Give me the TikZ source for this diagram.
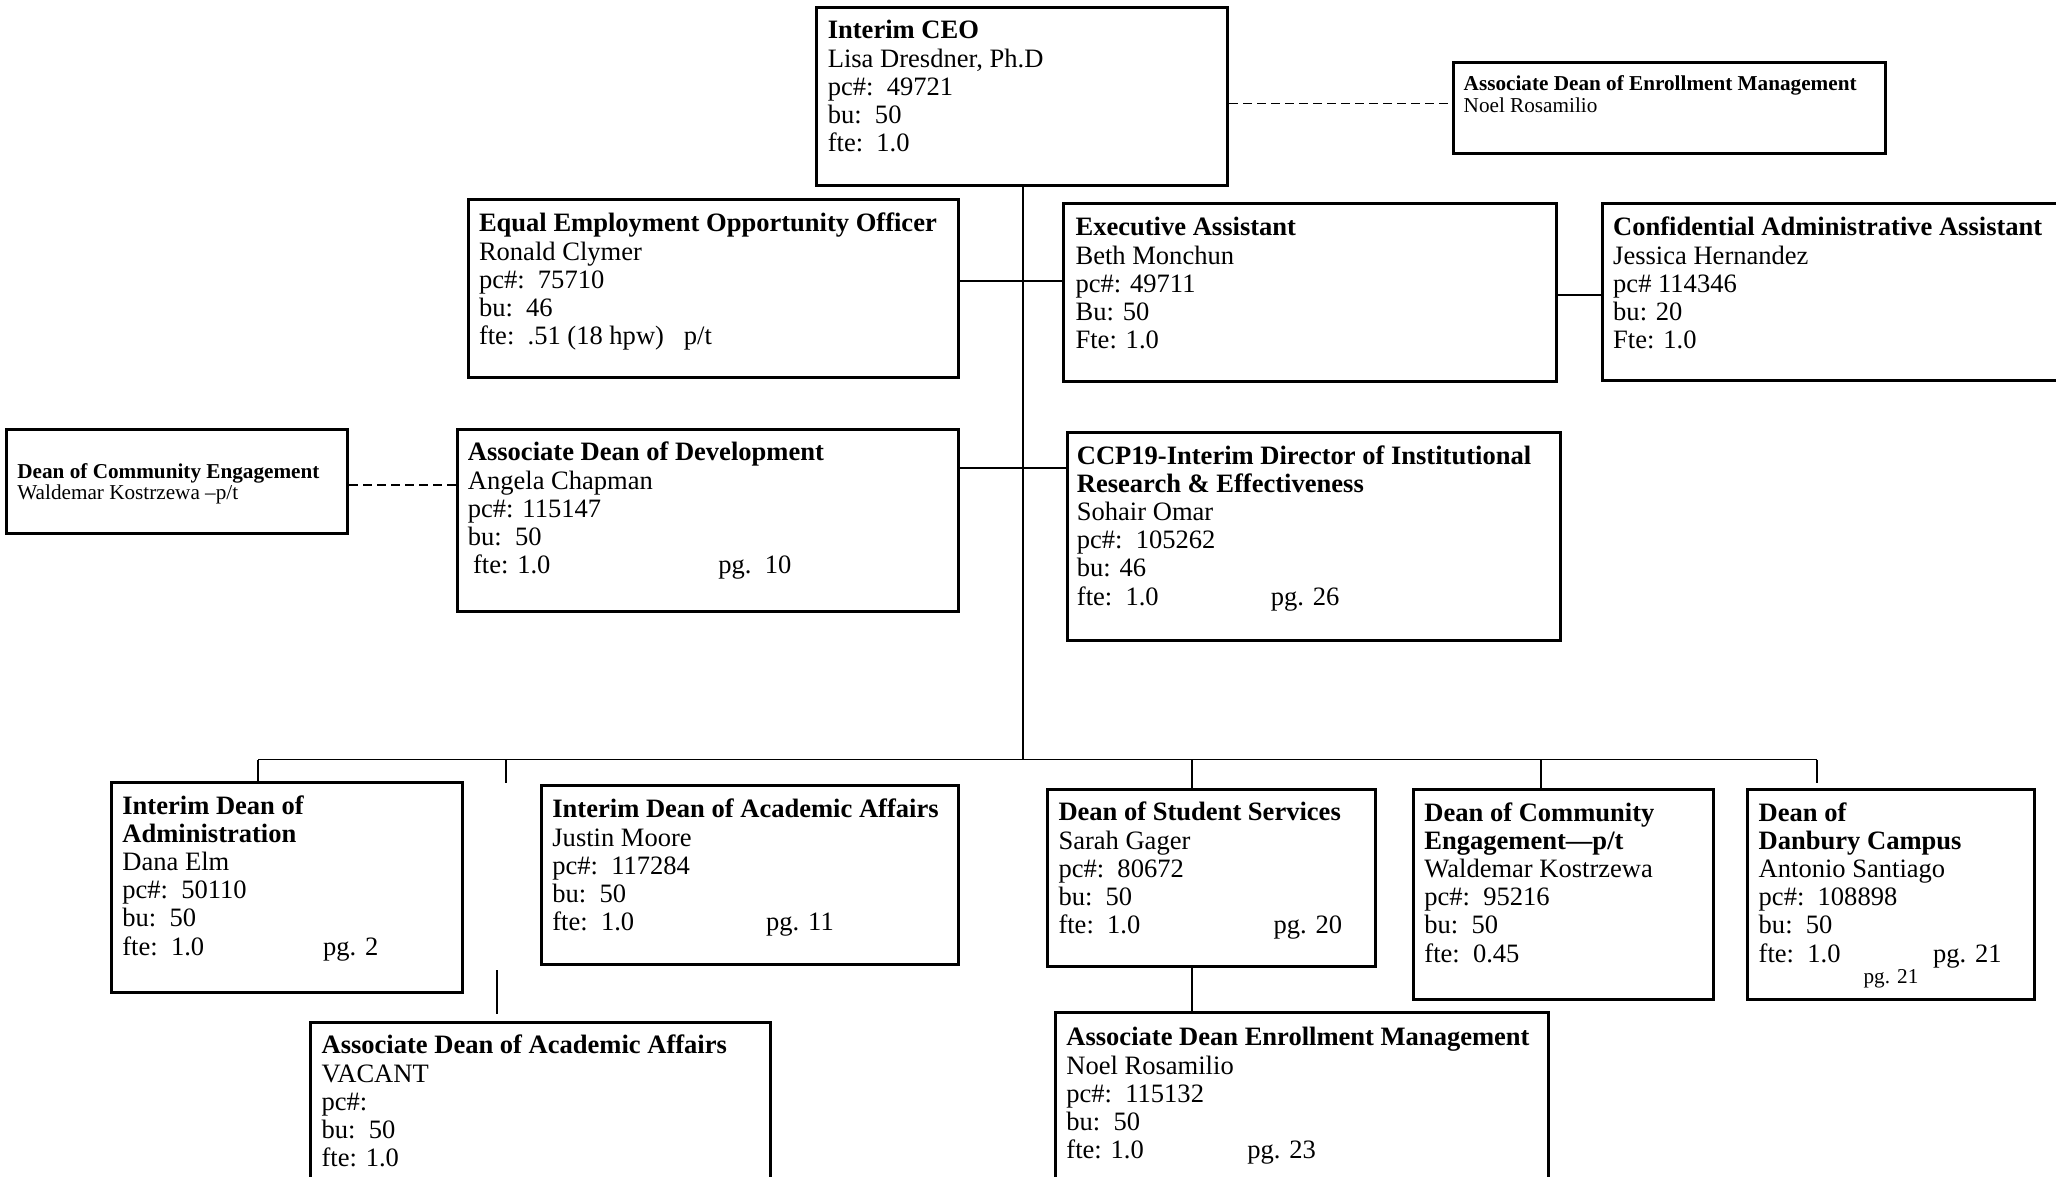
\documentclass[tikz,border=0pt]{standalone}
\usepackage{fontspec}
\setmainfont{Liberation Serif}
\usetikzlibrary{fit}
\begin{document}
\begin{tikzpicture}[x=0.5pt,y=-0.5pt,
  box/.style={draw, line width=1.5pt, inner sep=0pt},
  conn/.style={line width=0.9pt},
  dconn/.style={line width=0.9pt, dash pattern=on 4.5pt off 2.5pt},
  txt/.style={anchor=base west, inner sep=0pt, align=left, font=\fontsize{13.27}{14.1}\selectfont},
  stxt/.style={anchor=base west, inner sep=0pt, align=left, font=\fontsize{10.6}{10.8}\selectfont}]
\useasboundingbox (0,0) rectangle (2056,1177);
\clip (0,0) rectangle (2056,1177);

% boxes
\node[box, fit={(816,8) (1227.5,185)}] (ceo) {};
\node[box, fit={(1453,63) (1885.5,153.5)}] (aem) {};
\node[box, fit={(468,199.5) (958.5,377.5)}] (eeo) {};
\node[box, fit={(1063.5,203) (1556.5,381.5)}] (ea) {};
\node[box, fit={(1602,203) (2075,380)}] (caa) {};
\node[box, fit={(6.5,429) (347.5,533.5)}] (dce) {};
\node[box, fit={(457.5,429) (958.5,611)}] (add) {};
\node[box, fit={(1067.5,432.5) (1560.5,640)}] (ccp) {};
\node[box, fit={(111.5,782.5) (462.5,992.5)}] (ida) {};
\node[box, fit={(541,785) (958.5,964)}] (idaa) {};
\node[box, fit={(310,1022) (770.5,1200)}] (adaa) {};
\node[box, fit={(1047.5,789.3) (1375.5,966.5)}] (dss) {};
\node[box, fit={(1055.5,1012) (1548,1200)}] (adem) {};
\node[box, fit={(1413.5,789.3) (1713.7,999)}] (dcetwo) {};
\node[box, fit={(1747.8,789.3) (2034,999)}] (ddc) {};

% texts (anchored at the baseline of their last line)
\node[txt] (ceot) at (827.4,151.6) {\textbf{Interim CEO}\\Lisa Dresdner, Ph.D\\pc\#:~~49721\\bu:~~50\\fte:~~1.0};
\node[stxt] (aemt) at (1463.3,112.6) {\textbf{Associate Dean of Enrollment Management}\\Noel Rosamilio};
\node[txt] (eeot) at (478.6,344.6) {\textbf{Equal Employment Opportunity Officer}\\Ronald Clymer\\pc\#:~~75710\\bu:~~46\\fte:~~.51 (18 hpw)~~~p/t};
\node[txt] (eat) at (1075.2,348.6) {\textbf{Executive Assistant}\\Beth Monchun\\pc\#: 49711\\Bu: 50\\Fte: 1.0};
\node[txt] (caat) at (1612.8,348.6) {\textbf{Confidential Administrative Assistant}\\Jessica Hernandez\\pc\# 114346\\bu: 20\\Fte: 1.0};
\node[stxt] (dcet) at (17,499.6) {\textbf{Dean of Community Engagement}\\Waldemar Kostrzewa –p/t};
\node[txt] (addt) at (467.5,573.6) {\textbf{Associate Dean of Development}\\Angela Chapman\\pc\#: 115147\\bu:~~50\\\makebox[125.2pt][l]{\hspace*{2.6pt}fte: 1.0}pg.~~10};
\node[txt] (ccpt) at (1076.5,605) {\textbf{CCP19-Interim Director of Institutional}\\\textbf{Research \& Effectiveness}\\Sohair Omar\\pc\#:~~105262\\bu: 46\\\makebox[97pt][l]{fte:~~1.0}pg. 26};
\node[txt] (idat) at (122,955) {\textbf{Interim Dean of}\\\textbf{Administration}\\Dana Elm\\pc\#:~~50110\\bu:~~50\\\makebox[100.3pt][l]{fte:~~1.0}pg. 2};
\node[txt] (idaat) at (552,930.6) {\textbf{Interim Dean of Academic Affairs}\\Justin Moore\\pc\#:~~117284\\bu:~~50\\\makebox[106.9pt][l]{fte:~~1.0}pg. 11};
\node[txt] (adaat) at (321.2,1166.6) {\textbf{Associate Dean of Academic Affairs}\\VACANT\\pc\#:\\bu:~~50\\fte: 1.0};
\node[txt] (dsst) at (1058.1,933.6) {\textbf{Dean of Student Services}\\Sarah Gager\\pc\#:~~80672\\bu:~~50\\\makebox[107.5pt][l]{fte:~~1.0}pg. 20};
\node[txt] (ademt) at (1066,1158.6) {\textbf{Associate Dean Enrollment Management}\\Noel Rosamilio\\pc\#:~~115132\\bu:~~50\\\makebox[90.5pt][l]{fte: 1.0}pg. 23};
\node[txt] (dcetwot) at (1424,962) {\textbf{Dean of Community}\\\textbf{Engagement—p/t}\\Waldemar Kostrzewa\\pc\#:~~95216\\bu:~~50\\fte:~~0.45};
\node[txt] (ddct) at (1758.3,962) {\textbf{Dean of}\\\textbf{Danbury Campus}\\Antonio Santiago\\pc\#:~~108898\\bu:~~50\\\makebox[87.2pt][l]{fte:~~1.0}pg. 21};
\node[stxt] (ddcpg) at (1863.2,983) {pg. 21};

% junction coordinates
\coordinate (bus) at (1022.7,759.5);
\coordinate (busL) at (258.3,759.5);
\coordinate (busR) at (1817.3,759.5);
\coordinate (jdash) at (1022.7,103.6);
\coordinate (jeeo) at (1022.7,280.6);
\coordinate (jea) at (1570,295);
\coordinate (jadd) at (1022.7,468.1);
\coordinate (jdce) at (400,485.1);
\coordinate (dtwo) at (506.1,783);
\coordinate (dthree) at (1191.9,759.5);
\coordinate (dfour) at (1540.7,759.5);
\coordinate (dfive) at (1817.3,782.7);
\coordinate (vone) at (497,970);
\coordinate (vtwo) at (497,1013.5);

% connectors
\draw[conn] (ceo.south -| bus) -- (bus);
\draw[conn] (busL) -- (busR);
\draw[dconn] (ceo.east |- jdash) -- (aem.west |- jdash);
\draw[conn] (eeo.east |- jeeo) -- (ea.west |- jeeo);
\draw[conn] (ea.east |- jea) -- (caa.west |- jea);
\draw[conn] (add.east |- jadd) -- (ccp.west |- jadd);
\draw[dconn] (dce.east |- jdce) -- ([xshift=1pt]add.west |- jdce);
\draw[conn] (busL) -- (busL |- ida.north);
\draw[conn] (dtwo |- bus) -- (dtwo);
\draw[conn] (dthree) -- (dthree |- dss.north);
\draw[conn] (dthree |- dss.south) -- (dthree |- adem.north);
\draw[conn] (dfour) -- (dfour |- dcetwo.north);
\draw[conn] (busR) -- (dfive);
\draw[conn] (vone) -- (vtwo);
\end{tikzpicture}
\end{document}
